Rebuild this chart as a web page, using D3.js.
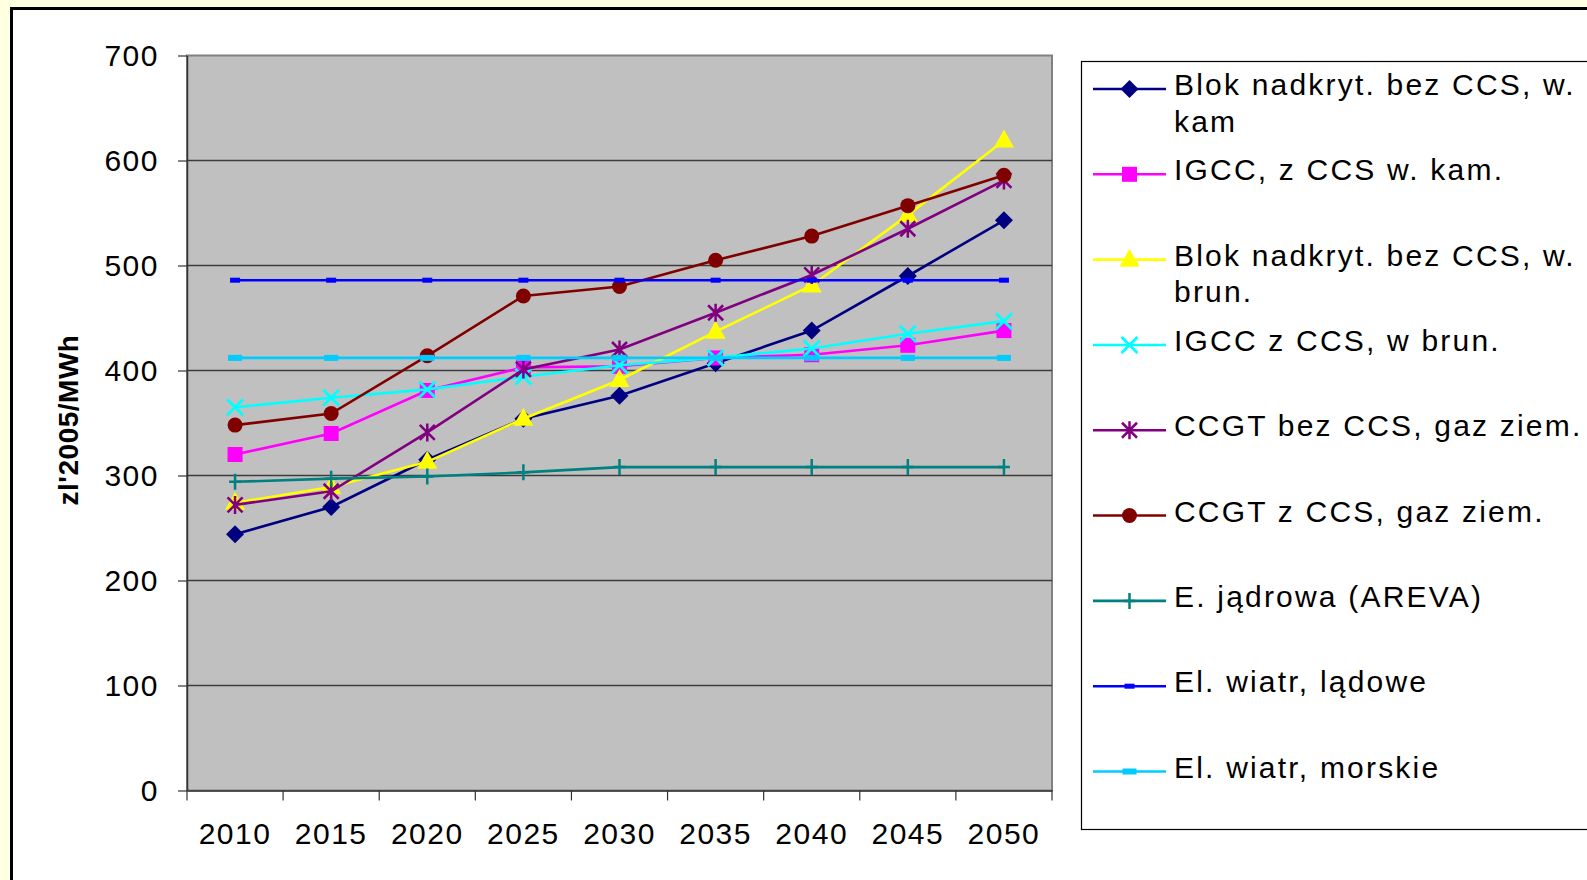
<!DOCTYPE html>
<html>
<head>
<meta charset="utf-8">
<script src="https://cdn.jsdelivr.net/npm/d3@7"></script>
<style>
  html, body { margin: 0; padding: 0; background: #FFFFE1; }
  svg { display: block; }
  text { font-family: "Liberation Sans", Arial, sans-serif; fill: #000; }
</style>
</head>
<body>
<svg id="chart" width="1587" height="880"></svg>
<script>
// Categories and tick values
const years = ["2010", "2015", "2020", "2025", "2030", "2035", "2040", "2045", "2050"];
const yTicks = [0, 100, 200, 300, 400, 500, 600, 700];
const yTitle = "zl'2005/MWh";

// Series values (zł'2005/MWh)
const blokKam   = [244, 270, 315, 354, 376, 407, 438, 490, 543];
const igccKam   = [320, 340, 381, 403, 404, 412, 415, 424, 438];
const blokBrun  = [274, 289, 313, 354, 391, 437, 481, 548, 619];
const igccBrun  = [365, 374, 382, 394, 405, 412, 421, 435, 447];
const ccgtBez   = [272, 285, 341, 401, 420, 455, 491, 535, 581];
const ccgtZ     = [348, 359, 414, 471, 480, 505, 528, 557, 586];
const jadrowa   = [294, 297, 299, 303, 308, 308, 308, 308, 308];
const wiatrLad  = [486, 486, 486, 486, 486, 486, 486, 486, 486];
const wiatrMor  = [412, 412, 412, 412, 412, 412, 412, 412, 412];

// Legend labels (wrapped lines)
const legendLabels = [
  ["Blok nadkryt. bez CCS, w.", "kam"],
  ["IGCC, z CCS w. kam."],
  ["Blok nadkryt. bez CCS, w.", "brun."],
  ["IGCC z CCS, w brun."],
  ["CCGT bez CCS, gaz ziem."],
  ["CCGT z CCS, gaz ziem."],
  ["E. jądrowa (AREVA)"],
  ["El. wiatr, lądowe"],
  ["El. wiatr, morskie"]
];

const series = [
  { values: blokKam,  color: "#000080", marker: "diamond" },
  { values: igccKam,  color: "#FF00FF", marker: "square" },
  { values: blokBrun, color: "#FFFF00", marker: "triangle" },
  { values: igccBrun, color: "#00FFFF", marker: "x" },
  { values: ccgtBez,  color: "#800080", marker: "star" },
  { values: ccgtZ,    color: "#800000", marker: "circle" },
  { values: jadrowa,  color: "#008080", marker: "plus" },
  { values: wiatrLad, color: "#0000FF", marker: "dash" },
  { values: wiatrMor, color: "#00CCFF", marker: "dashWide" }
];

const svg = d3.select("#chart");

// Chart frame
svg.append("rect")
  .attr("x", 11.5).attr("y", 8.5)
  .attr("width", 1640).attr("height", 940)
  .attr("fill", "#fff").attr("stroke", "#000").attr("stroke-width", 3);

const plot = { left: 187, right: 1052, top: 55.5, bottom: 790.5 };

const x = d3.scaleBand().domain(years).range([plot.left, plot.right]).padding(0);
const y = d3.scaleLinear().domain([0, 700]).range([plot.bottom, plot.top]);
const cx = d => x(d) + x.bandwidth() / 2;

// Plot area
svg.append("rect")
  .attr("x", plot.left).attr("y", plot.top)
  .attr("width", plot.right - plot.left).attr("height", plot.bottom - plot.top)
  .attr("fill", "#C0C0C0").attr("stroke", "#808080").attr("stroke-width", 2);

// Gridlines
svg.append("g").selectAll("line")
  .data(yTicks.filter(v => v > 0 && v < 700))
  .join("line")
  .attr("x1", plot.left).attr("x2", plot.right)
  .attr("y1", d => y(d)).attr("y2", d => y(d))
  .attr("stroke", "#3c3c3c").attr("stroke-width", 1.5);

// Y axis
const yAxis = svg.append("g")
  .attr("transform", `translate(${plot.left},0)`)
  .call(d3.axisLeft(y).tickValues(yTicks).tickSize(9).tickPadding(19).tickSizeOuter(0));
yAxis.select(".domain").attr("stroke", "#333").attr("stroke-width", 1.5);
yAxis.selectAll(".tick line").attr("stroke", "#333").attr("stroke-width", 1.2);
yAxis.selectAll("text")
  .style("font-size", "30px").style("letter-spacing", "1.5px")
  .attr("font-family", null);

// X axis: labels centred in each category, ticks between categories
const xAxis = svg.append("g")
  .attr("transform", `translate(0,${plot.bottom})`)
  .call(d3.axisBottom(x).tickSize(0).tickPadding(32));
xAxis.select(".domain").attr("stroke", "#333").attr("stroke-width", 1.5);
xAxis.selectAll("text")
  .style("font-size", "30px").style("letter-spacing", "1.5px")
  .attr("font-family", null);
svg.append("g").selectAll("line")
  .data(years.map(d => x(d)).concat([plot.right]))
  .join("line")
  .attr("x1", d => d).attr("x2", d => d)
  .attr("y1", plot.bottom).attr("y2", plot.bottom + 10)
  .attr("stroke", "#333").attr("stroke-width", 1.2);

// Y axis title
svg.append("text")
  .attr("transform", `translate(78,420) rotate(-90)`)
  .attr("text-anchor", "middle")
  .style("font-size", "28px").style("font-weight", "bold").style("letter-spacing", "0.5px")
  .text(yTitle);

// Marker drawing
function drawMarker(g, type, color) {
  switch (type) {
    case "diamond":
      g.append("path").attr("d", "M0,-9L9,0L0,9L-9,0Z").attr("fill", color);
      break;
    case "square":
      g.append("rect").attr("x", -7.5).attr("y", -7.5).attr("width", 15).attr("height", 15).attr("fill", color);
      break;
    case "triangle":
      g.append("path").attr("d", "M0,-11L10,7L-10,7Z").attr("fill", color);
      break;
    case "x":
      g.append("path").attr("d", "M-8,-8L8,8M-8,8L8,-8").attr("stroke", color).attr("stroke-width", 2.8).attr("fill", "none");
      break;
    case "star":
      g.append("path").attr("d", "M-7.5,-7.5L7.5,7.5M-7.5,7.5L7.5,-7.5M0,-9L0,9").attr("stroke", color).attr("stroke-width", 2.5).attr("fill", "none");
      break;
    case "circle":
      g.append("circle").attr("r", 7.5).attr("fill", color);
      break;
    case "plus":
      g.append("path").attr("d", "M0,-8L0,8M-6,0L6,0").attr("stroke", color).attr("stroke-width", 2.5).attr("fill", "none");
      break;
    case "dash":
      g.append("rect").attr("x", -5).attr("y", -2.5).attr("width", 10).attr("height", 5).attr("fill", color);
      break;
    case "dashWide":
      g.append("rect").attr("x", -7).attr("y", -3).attr("width", 14).attr("height", 6).attr("fill", color);
      break;
  }
}

const line = d3.line().x(d => cx(d.year)).y(d => y(d.value));

// Series (drawn in order, later ones on top)
series.forEach(s => {
  const pts = years.map((yr, i) => ({ year: yr, value: s.values[i] }));
  const g = svg.append("g");
  g.append("path").datum(pts)
    .attr("d", line)
    .attr("fill", "none")
    .attr("stroke", s.color)
    .attr("stroke-width", 2.6);
  g.selectAll("g.m").data(pts).join("g")
    .attr("class", "m")
    .attr("transform", d => `translate(${cx(d.year)},${y(d.value)})`)
    .each(function () { drawMarker(d3.select(this), s.marker, s.color); });
});

// Legend
const legend = svg.append("g");
legend.append("rect")
  .attr("x", 1081.5).attr("y", 61.5)
  .attr("width", 600).attr("height", 768)
  .attr("fill", "#fff").attr("stroke", "#000").attr("stroke-width", 1.2);

const rowY = d3.scaleLinear().domain([0, 8]).range([89, 771.5]);
series.forEach((s, i) => {
  const ry = rowY(i);
  const item = legend.append("g").attr("transform", `translate(0,${ry})`);
  item.append("line")
    .attr("x1", 1093).attr("x2", 1166).attr("y1", 0).attr("y2", 0)
    .attr("stroke", s.color).attr("stroke-width", 2.6);
  const mg = item.append("g").attr("transform", "translate(1129.5,0)");
  drawMarker(mg, s.marker, s.color);
  const t = item.append("text")
    .attr("x", 1174).attr("y", 6)
    .style("font-size", "30px").style("letter-spacing", "2.2px");
  legendLabels[i].forEach((ln, k) => {
    t.append("tspan").attr("x", 1174).attr("dy", k === 0 ? 0 : 36.5).text(ln);
  });
});
</script>
</body>
</html>
